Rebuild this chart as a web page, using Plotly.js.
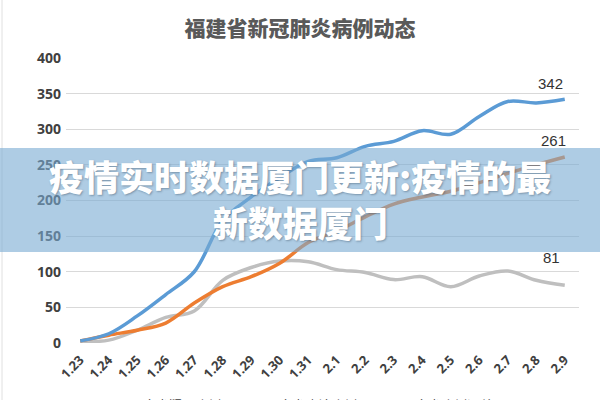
<!DOCTYPE html>
<html>
<head>
<meta charset="utf-8">
<script src="https://cdn.plot.ly/plotly-3.0.1.min.js"></script>
<style>
html,body{margin:0;padding:0;background:#fff;}
#chart{width:600px;height:400px;}
</style>
</head>
<body>
<div id="chart"></div>
<script>
const dates = ['1.23','1.24','1.25','1.26','1.27','1.28','1.29','1.30','1.31','2.1','2.2','2.3','2.4','2.5','2.6','2.7','2.8','2.9'];
const suspected = [2, 4, 18, 36, 45, 88, 106, 115, 114, 103, 99, 89, 93, 79, 94, 101, 88, 81];
const confirmed = [3, 11, 18, 28, 56, 79, 93, 112, 141, 157, 177, 195, 205, 213, 225, 238, 250, 261];
const total = [3, 13, 38, 68, 100, 172, 205, 232, 255, 260, 276, 283, 298, 293, 318, 339, 337, 342];
const seriesNames = ['全省疑似病例', '全省确诊病例', '全省病例汇总'];
const chartTitle = '福建省新冠肺炎病例动态';
const bannerText = '疫情实时数据厦门更新:疫情的最<br>新数据厦门';

const colors = ['#BFBFBF', '#ED7D31', '#5B9BD5'];
const series = [suspected, confirmed, total];

const traces = series.map((s, i) => ({
  x: dates, y: s, type: 'scatter', mode: 'lines', name: seriesNames[i],
  line: {color: colors[i], width: 3.5, shape: 'spline', smoothing: 1},
  hoverinfo: 'skip'
}));

const labelShift = [[-13, 28], [-11, 17], [-14, 16]];
const lastIdx = dates.length - 1;
const annotations = series.map((s, i) => ({
  x: lastIdx, y: s[lastIdx], xref: 'x', yref: 'y',
  text: String(s[lastIdx]), showarrow: false,
  xshift: labelShift[i][0], yshift: labelShift[i][1],
  font: {family: 'Liberation Sans, Arial, sans-serif', size: 15, color: '#333'}
}));

const L = 66, R = 21, T = 58, B = 57, W = 600, H = 400;
const ph = H - T - B, pw = W - L - R;
const py = p => (H - B - p) / ph;   // pixel to paper y
const px = p => (p - L) / pw;       // pixel to paper x

annotations.push({
  xref: 'paper', yref: 'paper', x: px(300), y: py(198), xanchor: 'center', yanchor: 'middle',
  text: bannerText, showarrow: false, align: 'center',
  font: {family: 'Noto Sans CJK SC, sans-serif', size: 35, color: '#ffffff', weight: 900,
         shadow: '1px 1px 2px rgba(60,80,100,0.45)'}
});

const layout = {
  width: W, height: H,
  margin: {l: L, r: R, t: T, b: B, autoexpand: false},
  paper_bgcolor: '#ffffff', plot_bgcolor: '#ffffff',
  title: {text: chartTitle, x: 0.5, xref: 'container', xanchor: 'center', y: 1 - 29/H, yanchor: 'middle',
          font: {family: 'Noto Sans CJK SC, sans-serif', size: 21, color: '#595959', weight: 900}},
  xaxis: {type: 'category', range: [-0.5, 17.5], showgrid: false, zeroline: false, showline: false,
          ticks: '', tickangle: -45, automargin: false, ticklabelstandoff: 6,
          tickfont: {family: 'Noto Sans, sans-serif', size: 13, color: '#404040', weight: 'bold'}},
  yaxis: {range: [0, 400], dtick: 50, showgrid: true, gridcolor: '#D9D9D9', gridwidth: 1,
          zeroline: false, showline: false, ticks: '', automargin: false, ticklabelstandoff: 4,
          tickfont: {family: 'Noto Sans, sans-serif', size: 14, color: '#404040', weight: 'bold'}},
  showlegend: true,
  legend: {orientation: 'h', xref: 'container', x: 307 / W, xanchor: 'center', y: py(390), yanchor: 'top',
           font: {family: 'Noto Sans CJK SC, sans-serif', size: 13, color: '#404040'},
           traceorder: 'normal', itemwidth: 30, entrywidth: 91, entrywidthmode: 'pixels'},
  annotations: annotations,
  shapes: [
    {type: 'rect', xref: 'paper', yref: 'paper', x0: px(0), x1: px(600), y0: py(252), y1: py(148),
     fillcolor: 'rgba(120,170,210,0.6)', line: {width: 0}, layer: 'above'},
    {type: 'line', xref: 'paper', yref: 'paper', x0: px(2), x1: px(2), y0: py(0), y1: py(400),
     line: {color: '#E0E0E0', width: 1}, layer: 'below'}
  ]
};

Plotly.newPlot('chart', traces, layout, {staticPlot: true, displayModeBar: false});
</script>
</body>
</html>
